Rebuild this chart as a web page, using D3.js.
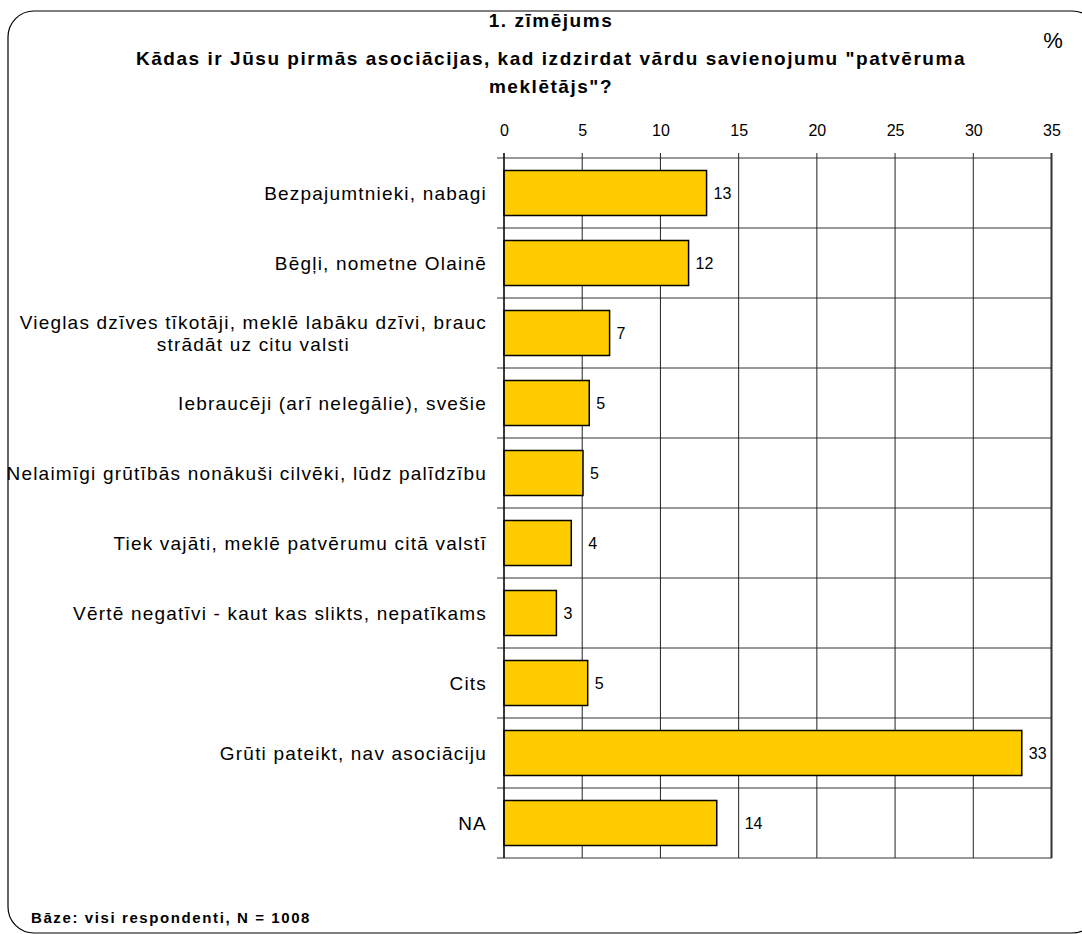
<!DOCTYPE html>
<html>
<head>
<meta charset="utf-8">
<script src="https://cdn.jsdelivr.net/npm/d3@7"></script>
<style>
  body { margin: 0; background: #fff; }
  svg { display: block; font-family: Arial, "Liberation Sans", sans-serif; }
</style>
</head>
<body>
<div id="chart"></div>
<script>
// data
const categories = [
  ["Bezpajumtnieki, nabagi"],
  ["Bēgļi, nometne Olainē"],
  ["Vieglas dzīves tīkotāji, meklē labāku dzīvi, brauc", "strādāt uz citu valsti"],
  ["Iebraucēji (arī nelegālie), svešie"],
  ["Nelaimīgi grūtībās nonākuši cilvēki, lūdz palīdzību"],
  ["Tiek vajāti, meklē patvērumu citā valstī"],
  ["Vērtē negatīvi - kaut kas slikts, nepatīkams"],
  ["Cits"],
  ["Grūti pateikt, nav asociāciju"],
  ["NA"]
]
const values = [12.95, 11.8, 6.75, 5.45, 5.05, 4.3, 3.35, 5.35, 33.1, 13.6]
const labels = ["13", "12", "7", "5", "5", "4", "3", "5", "33", "14"]
const xTicks = [0, 5, 10, 15, 20, 25, 30, 35]
const titleLines = ["1. zīmējums",
  "Kādas ir Jūsu pirmās asociācijas, kad izdzirdat vārdu savienojumu \"patvēruma",
  "meklētājs\"?"]
const baseText = "Bāze: visi respondenti, N = 1008"

const W = 1082, H = 934
const margin = {top: 158, left: 504, right: 30, bottom: 76}
const width = W - margin.left - margin.right
const height = H - margin.top - margin.bottom

const svg = d3.select("#chart").append("svg")
  .attr("width", W).attr("height", H)

// rounded frame
svg.append("rect")
  .attr("x", 8).attr("y", 11)
  .attr("width", 1090).attr("height", 922)
  .attr("rx", 26).attr("ry", 26)
  .attr("fill", "none").attr("stroke", "#000").attr("stroke-width", 1.2)

// title
const title = svg.append("g").attr("font-weight", "bold").attr("font-size", 19)
  .attr("text-anchor", "middle")
const titleY = [27, 65, 93]
title.selectAll("text").data(titleLines).join("text")
  .attr("x", 551).attr("y", (d, i) => titleY[i])
  .text(d => d)
// stretch letter spacing so the long line fits the original width
const longNode = title.selectAll("text").nodes()[1]
const natural = longNode.getComputedTextLength()
const ls = Math.max(0, (830 - natural) / (titleLines[1].length))
title.attr("letter-spacing", ls)

svg.append("text").attr("x", 1053).attr("y", 48).attr("text-anchor", "middle")
  .attr("font-size", 22).text("%")

svg.append("text").attr("x", 31).attr("y", 923)
  .attr("font-weight", "bold").attr("font-size", 15).attr("letter-spacing", 1.6)
  .text(baseText)

const g = svg.append("g").attr("transform", `translate(${margin.left},${margin.top})`)

const x = d3.scaleLinear().domain([0, 35]).range([0, width - 0.5])
const keys = categories.map(c => c.join(" "))
const y = d3.scaleBand().domain(keys).range([0, height])

// horizontal grid at category boundaries
g.append("g").selectAll("line").data(d3.range(keys.length + 1)).join("line")
  .attr("x1", -7).attr("x2", width)
  .attr("y1", i => i * y.step()).attr("y2", i => i * y.step())
  .attr("stroke", "#333").attr("stroke-width", 1)

// vertical grid
g.append("g").selectAll("line").data(xTicks).join("line")
  .attr("x1", d => x(d)).attr("x2", d => x(d))
  .attr("y1", -5).attr("y2", height)
  .attr("stroke", d => d === 35 ? "#333" : "#222")
  .attr("stroke-width", d => d === 35 ? 2 : 1)

// top axis labels
const xAxis = g.append("g")
  .call(d3.axisTop(x).tickValues(xTicks).tickSize(0).tickPadding(22))
xAxis.select(".domain").remove()
xAxis.selectAll("text").attr("font-size", 16).attr("font-family", "Arial, 'Liberation Sans', sans-serif")
  .attr("fill", "#000")

// bars
const barH = y.step() * 0.643
const off = (y.step() - barH) / 2
g.append("g").selectAll("rect").data(values).join("rect")
  .attr("x", x(0))
  .attr("y", (d, i) => y(keys[i]) + off)
  .attr("width", d => x(d) - x(0))
  .attr("height", barH)
  .attr("fill", "#FFCC00").attr("stroke", "#000").attr("stroke-width", 1.5)

// value labels, pushed past a gridline when they would sit on it
g.append("g").selectAll("text").data(values).join("text")
  .attr("x", d => x(d) + 7)
  .attr("y", (d, i) => y(keys[i]) + y.step() / 2)
  .attr("dy", "0.35em")
  .attr("font-size", 16)
  .text((d, i) => labels[i])
  .each(function() {
    const el = d3.select(this)
    const x0 = +el.attr("x")
    const w = this.getComputedTextLength()
    const hit = xTicks.map(x).find(gx => gx > x0 - 1 && gx < x0 + w + 1)
    if (hit !== undefined) el.attr("x", hit + 6)
  })

// category labels
const catG = g.append("g").attr("font-size", 19).attr("letter-spacing", 1.2)
categories.forEach((lines, i) => {
  const cy = y(keys[i]) + y.step() / 2
  const lh = 22
  const t = catG.append("text").attr("text-anchor", "end")
  lines.forEach((ln, j) => {
    t.append("tspan").attr("x", -17)
      .attr("y", cy + (j - (lines.length - 1) / 2) * lh)
      .attr("dy", "0.35em").text(ln)
  })
  if (lines.length > 1) {
    // wrapped label: centre the lines inside the block
    const widths = t.selectAll("tspan").nodes().map(n => n.getComputedTextLength())
    const maxW = d3.max(widths)
    t.attr("text-anchor", "middle").selectAll("tspan").attr("x", -17 - maxW / 2)
  }
})

// left axis line
g.append("line").attr("x1", 0).attr("x2", 0).attr("y1", -5).attr("y2", height)
  .attr("stroke", "#000").attr("stroke-width", 1.2)
</script>
</body>
</html>
